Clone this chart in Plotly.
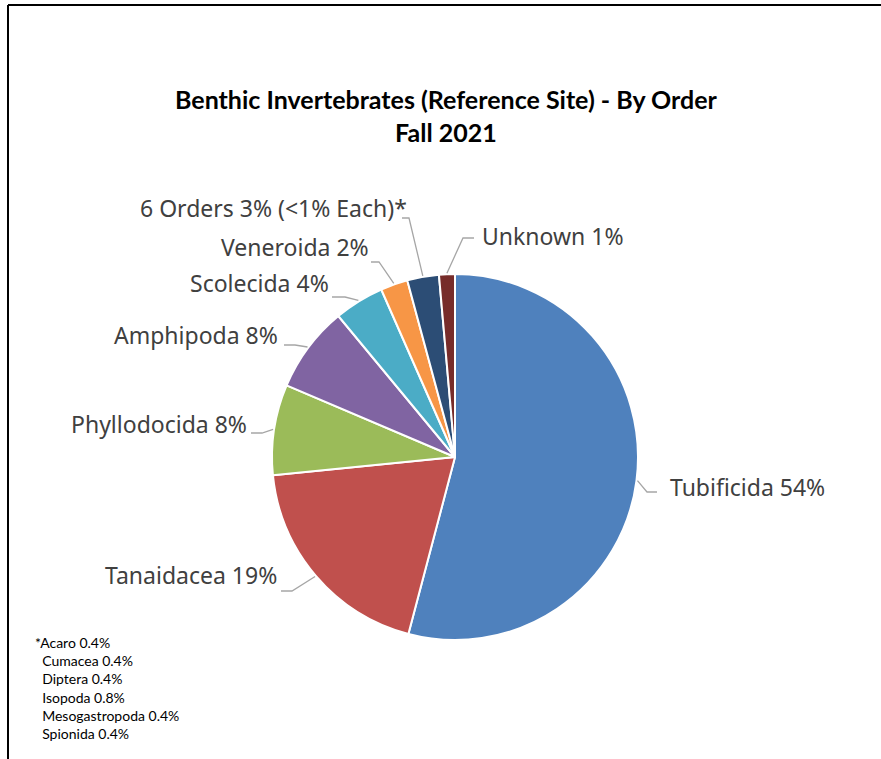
import math
import plotly.graph_objects as go

# ---- data -------------------------------------------------------------
orders = ["Tubificida", "Tanaidacea", "Phyllodocida", "Amphipoda",
          "Scolecida", "Veneroida", "6 Orders", "Unknown"]

# orders grouped into the "6 Orders" slice, each under 1%
minor_orders = ["Acaro", "Cumacea", "Diptera", "Isopoda", "Mesogastropoda", "Spionida"]
minor_pct = [0.4, 0.4, 0.4, 0.8, 0.4, 0.4]

pct = [54.1, 19.3, 8.0, 7.6, 4.4, 2.4, round(sum(minor_pct), 1), 1.4]

label_suffix = {"6 Orders": " (<1% Each)*"}

colors = ["#4F81BD", "#C0504D", "#9BBB59", "#8064A2",
          "#4BACC6", "#F79646", "#2C4D75", "#772C2A"]

# ---- layout (pixels) --------------------------------------------------
W, H = 881, 759
CX, CY, R = 455, 457, 183

# label anchor, side of the text the anchor is on, and leader line elbow/end
label_layout = {
    "Tubificida":   dict(x=668, y=487, anchor="left",  leader=[(647, 492), (657, 492)]),
    "Tanaidacea":   dict(x=279, y=575, anchor="right", leader=[(292, 591), (281, 591)]),
    "Phyllodocida": dict(x=249, y=424, anchor="right", leader=[(262, 433), (251, 433)]),
    "Amphipoda":    dict(x=280, y=335, anchor="right", leader=[(295, 345), (284, 345)]),
    "Scolecida":    dict(x=331, y=283, anchor="right", leader=[(345, 297), (332, 297)]),
    "Veneroida":    dict(x=371, y=247, anchor="right", leader=[(379, 262), (371, 262)]),
    "6 Orders":     dict(x=409, y=208, anchor="right", leader=[(409, 218), (402, 218)]),
    "Unknown":      dict(x=480, y=236, anchor="left",  leader=[(463, 238), (474, 238)]),
}


def px(x):
    return x / W


def py(y):
    return 1 - y / H


fig = go.Figure(go.Pie(
    labels=orders,
    values=pct,
    sort=False,
    direction="clockwise",
    rotation=0,
    textinfo="none",
    hoverinfo="label+percent",
    marker=dict(colors=colors, line=dict(color="white", width=2)),
    domain=dict(x=[px(CX - R), px(CX + R)], y=[py(CY + R), py(CY - R)]),
    showlegend=False,
))

total = sum(pct)
annotations = []
shapes = []
cum = 0.0
for name, v in zip(orders, pct):
    mid = (cum + v / 2) / total * 2 * math.pi
    cum += v
    sx = CX + (R + 1) * math.sin(mid)
    sy = CY - (R + 1) * math.cos(mid)
    lay = label_layout[name]
    pts = [(sx, sy)] + lay["leader"]
    path = "M " + " L ".join(f"{px(a):.5f},{py(b):.5f}" for a, b in pts)
    shapes.append(dict(type="path", path=path, xref="paper", yref="paper",
                       line=dict(color="#A6A6A6", width=1.3)))
    text = f"{name} {round(v / total * 100)}%{label_suffix.get(name, '')}"
    annotations.append(dict(
        text=text, x=px(lay["x"]), y=py(lay["y"]), xref="paper", yref="paper",
        xanchor=lay["anchor"], yanchor="middle", showarrow=False,
        font=dict(family="Noto Sans", size=23, color="#404040"),
    ))

# title
annotations.append(dict(
    text="<b>Benthic Invertebrates (Reference Site) - By Order<br>Fall 2021</b>",
    x=px(447), y=py(116), xref="paper", yref="paper",
    xanchor="center", yanchor="middle", showarrow=False,
    font=dict(family="Lato", size=25, color="#000000"),
))

# footnote listing the small orders
foot_lines = []
for i, (n, v) in enumerate(zip(minor_orders, minor_pct)):
    prefix = "*" if i == 0 else "\u00a0\u00a0"
    foot_lines.append(f"{prefix}{n} {v}%")
annotations.append(dict(
    text="<br>".join(foot_lines),
    x=px(33), y=py(632), xref="paper", yref="paper",
    xanchor="left", yanchor="top", align="left", showarrow=False,
    font=dict(family="Lato", size=14, color="#000000"),
))

# chart frame
shapes.append(dict(type="line", xref="paper", yref="paper",
                   x0=px(8), y0=py(5), x1=1, y1=py(5),
                   line=dict(color="black", width=2)))
shapes.append(dict(type="line", xref="paper", yref="paper",
                   x0=px(8), y0=py(5), x1=px(8), y1=0,
                   line=dict(color="black", width=2)))

fig.update_layout(
    width=W, height=H,
    margin=dict(l=0, r=0, t=0, b=0),
    paper_bgcolor="white",
    plot_bgcolor="white",
    annotations=annotations,
    shapes=shapes,
)

fig.write_html("out.html")
